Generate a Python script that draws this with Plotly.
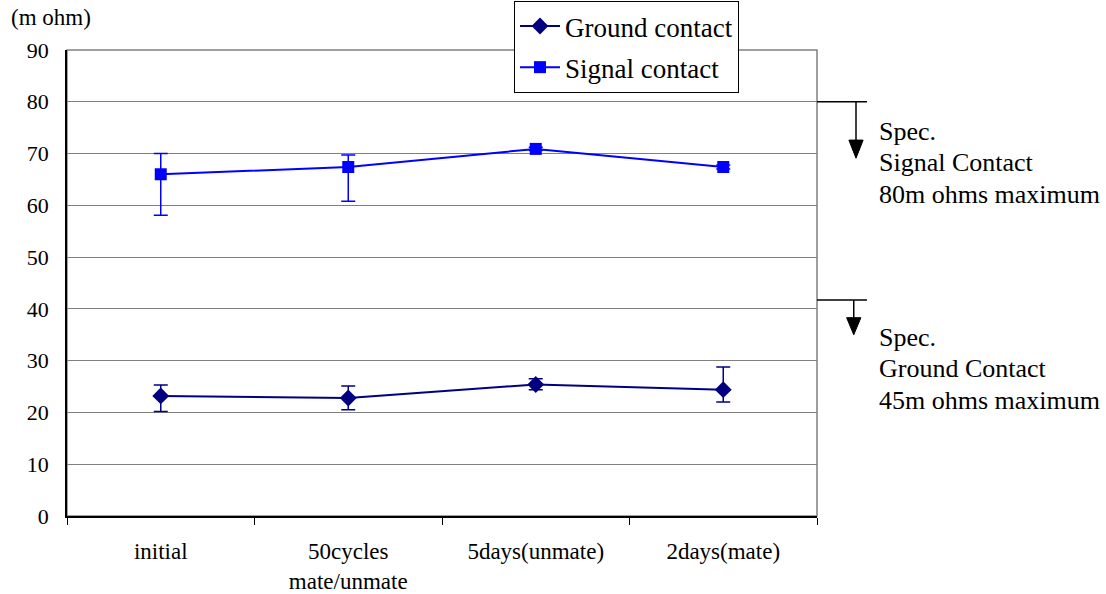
import plotly.graph_objects as go

categories = ["initial", "50cycles<br>mate/unmate", "5days(unmate)", "2days(mate)"]
ground_vals = [23.2, 22.8, 25.4, 24.4]
ground_plus = [2.1, 2.3, 1.1, 4.4]
ground_minus = [3.0, 2.3, 1.0, 2.4]
signal_vals = [66.0, 67.4, 70.9, 67.4]
signal_plus = [4.0, 2.3, 0.3, 0.4]
signal_minus = [7.9, 6.6, 0.3, 0.4]
y_ticks = [0, 10, 20, 30, 40, 50, 60, 70, 80, 90]
spec_levels = [80, 41.7]
spec_lines = [["Spec.", "Signal Contact", "80m ohms maximum"],
              ["Spec.", "Ground Contact", "45m ohms maximum"]]

FONT = "Times New Roman, Liberation Serif, Times, serif"
YMAX = 90.0
PLOT_TOP, PLOT_H = 50, 466

fig = go.Figure()
fig.add_trace(go.Scatter(
    x=categories, y=ground_vals, name="Ground contact", mode="lines+markers",
    legendgroup="g",
    line=dict(color="#000080", width=2),
    marker=dict(symbol="diamond", size=13, color="#000080"),
    error_y=dict(type="data", symmetric=False, array=ground_plus, arrayminus=ground_minus,
                 color="#000080", thickness=1.5, width=7),
))
fig.add_trace(go.Scatter(
    x=categories, y=signal_vals, name="Signal contact", mode="lines+markers",
    legendgroup="s",
    line=dict(color="#0000FF", width=2),
    marker=dict(symbol="square", size=12, color="#0000FF"),
    error_y=dict(type="data", symmetric=False, array=signal_plus, arrayminus=signal_minus,
                 color="#0000FF", thickness=1.5, width=7),
))

shapes = []
shapes.append(dict(type="rect", xref="paper", yref="paper", x0=0, x1=1, y0=0, y1=1,
                   line=dict(color="#808080", width=1.5), layer="below"))
arrow_x = [1.052, 1.049]
tip_drop = [10.9, 6.7]
head_len = [3.5, 3.3]
for lvl, ax_, drop, hl in zip(spec_levels, arrow_x, tip_drop, head_len):
    yp = lvl / YMAX
    tip = (lvl - drop) / YMAX
    base = (lvl - drop + hl) / YMAX
    shapes.append(dict(type="line", xref="paper", yref="paper", x0=1, x1=1.0667,
                       y0=yp, y1=yp, line=dict(color="black", width=1.5)))
    shapes.append(dict(type="line", xref="paper", yref="paper", x0=ax_, x1=ax_,
                       y0=yp, y1=base, line=dict(color="black", width=1.5)))
    hw = 0.0095
    shapes.append(dict(type="path", xref="paper", yref="paper",
                       path=f"M {ax_-hw} {base} L {ax_+hw} {base} L {ax_} {tip} Z",
                       fillcolor="black", line=dict(color="black", width=1)))

annotations = [dict(text="(m ohm)", xref="paper", yref="paper", x=-0.078, y=1.069,
                    xanchor="left", yanchor="middle", showarrow=False,
                    font=dict(family=FONT, size=23, color="black"))]
first_line_px = [131, 337]
for lines, y0px in zip(spec_lines, first_line_px):
    for i, t in enumerate(lines):
        ypx = y0px + i * 31.8
        annotations.append(dict(text=t, xref="paper", yref="paper", x=1.0805,
                                y=(PLOT_TOP + PLOT_H - ypx) / PLOT_H,
                                xanchor="left", yanchor="middle", align="left",
                                showarrow=False,
                                font=dict(family=FONT, size=26, color="black")))

fig.update_layout(
    width=1106, height=594,
    margin=dict(l=67, r=289, t=50, b=78, autoexpand=False),
    paper_bgcolor="white", plot_bgcolor="white",
    font=dict(family=FONT, color="black"),
    shapes=shapes, annotations=annotations,
    showlegend=True,
    legend=dict(x=514 / 1106, y=1 - 1 / 594, xref="container", yref="container",
                xanchor="left", yanchor="top", traceorder="grouped",
                bgcolor="white", bordercolor="black", borderwidth=1,
                font=dict(family=FONT, size=27, color="black"),
                tracegroupgap=3, itemwidth=40),
    xaxis=dict(type="category", range=[-0.5, 3.5], tickson="boundaries",
               ticks="outside", ticklen=7, tickcolor="black", tickwidth=1,
               showline=True, linecolor="black", linewidth=1.5, showgrid=False,
               tickfont=dict(family=FONT, size=23, color="black"),
               ticklabelstandoff=14, zeroline=False),
    yaxis=dict(range=[0, 90], tickvals=y_ticks, ticks="", showline=True,
               linecolor="black", linewidth=1.5, showgrid=True, gridcolor="#808080",
               gridwidth=1.2, zeroline=False,
               tickfont=dict(family=FONT, size=22, color="black"),
               ticklabelstandoff=12),
)

fig.write_html("out.html", config={"displayModeBar": False},
               post_script="document.body.style.margin='0';document.body.style.overflow='hidden';")
